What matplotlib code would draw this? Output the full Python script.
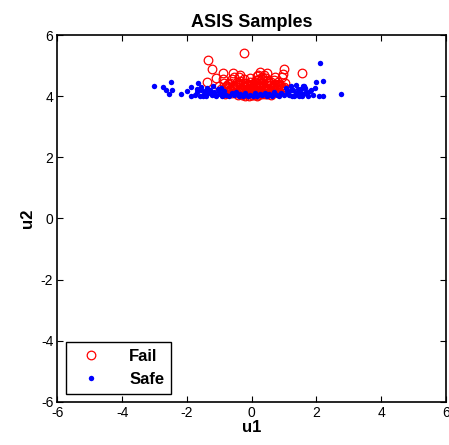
import matplotlib
matplotlib.use('Agg')
import matplotlib.pyplot as plt

# --- данные (оценены по картинке) ---
fail_u1 = [-0.25, -1.36, -1.22, -1.39, -1.10, -0.90, -0.58, -0.36, 0.99, 1.56, 0.98, 0.26, 0.46,
           -0.95, -0.80, -0.70, -0.62, -0.50, -0.42, -0.30, -0.22, -0.15, -0.08, 0.00, 0.05, 0.12,
           0.18, 0.25, 0.32, 0.40, 0.48, 0.55, 0.62, 0.70, 0.78, 0.85, 0.92, 1.02,
           -0.85, -0.72, -0.60, -0.45, -0.35, -0.20, -0.10, 0.02, 0.10, 0.22, 0.35, 0.45, 0.58,
           0.68, 0.80, 0.95,
           -0.65, -0.55, -0.38, -0.25, -0.12, -0.05, 0.08, 0.15, 0.28, 0.38, 0.52, 0.65, 0.75,
           -0.48, -0.32, -0.18, -0.02, 0.06, 0.20, 0.30, 0.42, 0.60,
           -1.00, -0.88, 1.05, 0.88, -0.75, 0.72, -0.28, 0.14, 0.33, -0.40, 0.50,
           -0.15, 0.00, 0.10, 0.25, -0.30, 0.40, -0.05, 0.20,
           -0.92, -0.78, -0.66, -0.52, -0.44, -0.33, -0.24, -0.14, -0.06, 0.04, 0.13, 0.21,
           0.29, 0.37, 0.46, 0.54, 0.63, 0.71, 0.82, 0.90,
           -0.82, -0.68, -0.57, -0.41, -0.27, -0.17, -0.09, 0.01, 0.09, 0.17, 0.27, 0.36,
           0.44, 0.56, 0.66, 0.77, 0.86, 1.00,
           -0.58, -0.36, -0.21, -0.11, 0.03, 0.12, 0.24, 0.34, 0.47, 0.59, -0.46, 0.31]
fail_u2 = [5.41, 5.19, 4.88, 4.48, 4.60, 4.77, 4.77, 4.70, 4.89, 4.77, 4.72, 4.78, 4.75,
           4.25, 4.15, 4.30, 4.10, 4.35, 4.05, 4.20, 4.02, 4.08, 4.00, 4.03, 4.05, 4.10,
           4.02, 4.12, 4.06, 4.18, 4.08, 4.22, 4.15, 4.30, 4.20, 4.40, 4.35, 4.45,
           4.45, 4.40, 4.55, 4.30, 4.50, 4.35, 4.25, 4.40, 4.30, 4.55, 4.45, 4.60, 4.38,
           4.52, 4.48, 4.62,
           4.20, 4.62, 4.15, 4.55, 4.18, 4.60, 4.15, 4.65, 4.22, 4.70, 4.25, 4.35, 4.28,
           4.12, 4.22, 4.10, 4.28, 4.12, 4.05, 4.15, 4.08, 4.05,
           4.35, 4.58, 4.25, 4.32, 4.28, 4.62, 4.45, 4.48, 4.58, 4.62, 4.52,
           4.32, 4.18, 4.38, 4.12, 4.05, 4.22, 4.48, 4.68,
           4.18, 4.32, 4.42, 4.24, 4.46, 4.28, 4.38, 4.24, 4.36, 4.26, 4.20, 4.34,
           4.42, 4.30, 4.26, 4.44, 4.28, 4.40, 4.32, 4.26,
           4.08, 4.22, 4.32, 4.18, 4.12, 4.44, 4.14, 4.10, 4.22, 4.28, 4.34, 4.20,
           4.50, 4.14, 4.18, 4.38, 4.14, 4.30,
           4.28, 4.36, 4.30, 4.40, 4.34, 4.52, 4.42, 4.26, 4.36, 4.46, 4.40, 4.64]

safe_u1 = [-3.01, -2.73, -2.48, -2.45, -2.55, -2.65, -2.19, -2.00, -1.88, -1.86, -1.65,
           2.11, 2.19, 2.00, 1.95, 2.77, 2.09, 2.19, 1.37, 1.62,
           -1.75, -1.68, -1.60, -1.55, -1.48, -1.42, -1.35, -1.30, -1.22, -1.15, -1.10, -1.05,
           -0.98, -0.92, -0.85, -0.78, -0.70, -0.62, -0.55, -0.48, -0.40, -0.35, -0.28, -0.20,
           -0.12, -0.05, 0.03, 0.10, 0.18, 0.25, 0.32, 0.40, 0.48, 0.55, 0.62, 0.70, 0.78,
           0.85, 0.92, 1.00, 1.08, 1.15, 1.22, 1.30, 1.38, 1.45, 1.52, 1.60, 1.68, 1.75,
           1.82, 1.90,
           -1.70, -1.58, -1.45, -1.38, -1.25, -1.18, -1.02, -0.95, -0.88, 1.05, 1.12, 1.20,
           1.28, 1.35, 1.42, 1.50, 1.58, 1.65, 1.72, 1.80, 1.25, 1.55, -1.50, -1.12]
safe_u2 = [4.33, 4.29, 4.48, 4.19, 4.08, 4.19, 4.07, 4.16, 4.29, 4.00, 4.44,
           5.09, 4.51, 4.48, 4.27, 4.07, 4.02, 4.02, 4.37, 4.32,
           4.05, 4.15, 4.02, 4.20, 4.08, 4.00, 4.12, 4.22, 4.03, 4.15, 4.00, 4.25,
           4.08, 4.02, 4.18, 4.05, 4.00, 4.10, 4.03, 4.15, 4.00, 4.08, 4.02, 4.12,
           4.00, 4.05, 4.02, 4.10, 4.00, 4.06, 4.03, 4.12, 4.00, 4.08, 4.02, 4.15, 4.05,
           4.00, 4.10, 4.03, 4.18, 4.05, 4.22, 4.02, 4.12, 4.00, 4.25, 4.08, 4.15, 4.02,
           4.20, 4.05,
           4.25, 4.30, 4.18, 4.28, 4.10, 4.32, 4.15, 4.28, 4.05, 4.28, 4.10, 4.33,
           4.20, 4.05, 4.25, 4.12, 4.35, 4.28, 4.08, 4.18, 4.00, 4.02, 4.00, 4.05]

ticks = [-6, -4, -2, 0, 2, 4, 6]

plt.rcParams['font.family'] = ['Liberation Sans', 'DejaVu Sans']
plt.rcParams['axes.unicode_minus'] = False

fig = plt.figure(figsize=(4.49, 4.45), dpi=100)
ax = fig.add_axes([0.128, 0.097, 0.865, 0.824])

ax.plot(fail_u1, fail_u2, 'o', mfc='none', mec='red', ms=6.2, mew=0.9, label='Fail')
ax.plot(safe_u1, safe_u2, 'o', color='blue', ms=3.9, mew=0, label='Safe')

ax.set_xlim(-6, 6)
ax.set_ylim(-6, 6)
ax.set_xticks(ticks)
ax.set_yticks(ticks)
ax.tick_params(direction='in', length=4, width=0.8, labelsize=10,
               top=True, right=True, pad=3)
for s in ax.spines.values():
    s.set_linewidth(1.2)

ax.set_title('ASIS Samples', fontsize=13, fontweight='bold', pad=6)
ax.set_xlabel('u1', fontsize=12, fontweight='bold', labelpad=0)
ax.set_ylabel('u2', fontsize=12, fontweight='bold', labelpad=4)

leg = ax.legend(loc='lower left', fancybox=False, edgecolor='black', framealpha=1,
                prop={'size': 12, 'weight': 'bold'}, borderaxespad=0.5,
                handlelength=2.2, handletextpad=1.2, labelspacing=0.5)
leg.get_frame().set_linewidth(1.0)

fig.savefig('out.png', dpi=100)
